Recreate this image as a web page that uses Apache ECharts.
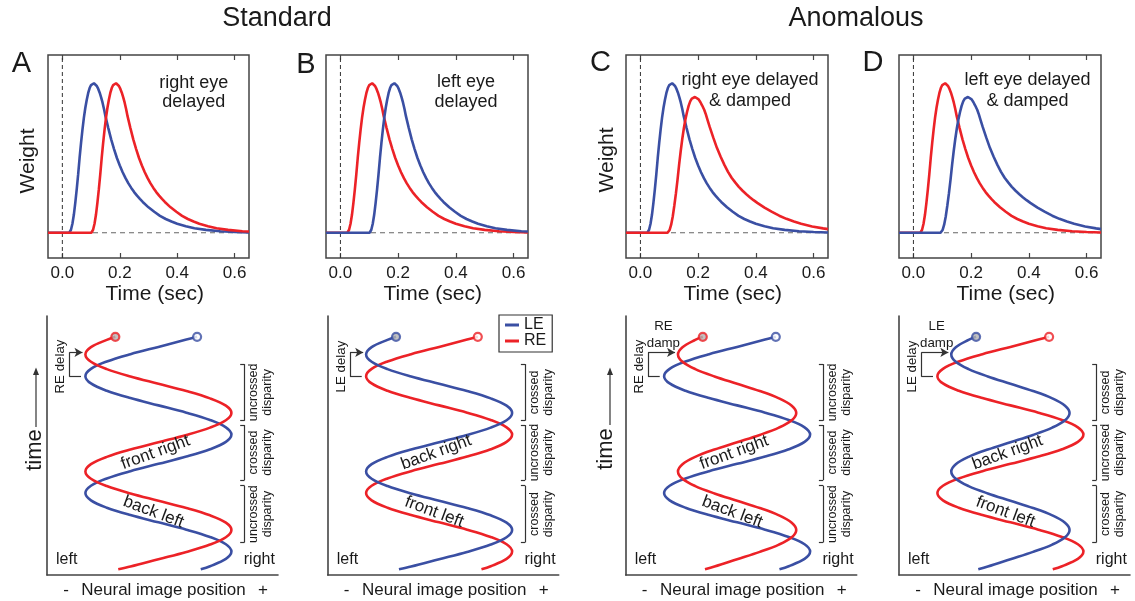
<!DOCTYPE html>
<html><head><meta charset="utf-8">
<script src="https://cdn.jsdelivr.net/npm/echarts@6/dist/echarts.min.js"></script>
<style>html,body{margin:0;padding:0;background:#fff}#c{width:1135px;height:601px}</style>
</head><body><div id="c"></div>
<script>
// ---------------- data ----------------
const timeTicks = [0, 0.2, 0.4, 0.6];
const groupTitles = ['Standard', 'Anomalous'];
const panelLetters = ['A', 'B', 'C', 'D'];
const eyeNames = ['LE', 'RE'];

// temporal weighting functions [time (s), weight]
const fastKernel = [[-0.05,0],[0.024,0],[0.03,0.02],[0.035,0.06],[0.04,0.12],[0.045,0.2],[0.05,0.29],[0.055,0.39],[0.06,0.5],[0.065,0.6],[0.07,0.69],[0.075,0.77],[0.08,0.836],[0.085,0.89],[0.09,0.935],[0.095,0.968],[0.1,0.988],[0.105,0.998],[0.11,1.0],[0.115,0.995],[0.12,0.982],[0.125,0.962],[0.13,0.937],[0.135,0.906],[0.14,0.87],[0.145,0.828],[0.15,0.78],[0.16,0.7],[0.17,0.625],[0.18,0.56],[0.19,0.5],[0.2,0.45],[0.21,0.405],[0.22,0.365],[0.23,0.33],[0.24,0.3],[0.25,0.272],[0.26,0.248],[0.27,0.226],[0.28,0.206],[0.3,0.17],[0.32,0.14],[0.34,0.113],[0.36,0.092],[0.38,0.075],[0.4,0.06],[0.43,0.043],[0.46,0.03],[0.5,0.019],[0.55,0.01],[0.6,0.005],[0.65,0.002]];
const delayedKernel = [[-0.05,0],[0.101,0],[0.107,0.02],[0.112,0.06],[0.117,0.12],[0.122,0.2],[0.127,0.29],[0.132,0.39],[0.137,0.5],[0.142,0.6],[0.147,0.69],[0.152,0.77],[0.157,0.836],[0.162,0.89],[0.167,0.935],[0.172,0.968],[0.177,0.988],[0.182,0.998],[0.187,1.0],[0.192,0.995],[0.197,0.982],[0.202,0.962],[0.207,0.937],[0.212,0.906],[0.217,0.87],[0.222,0.828],[0.227,0.78],[0.237,0.7],[0.247,0.625],[0.257,0.56],[0.267,0.5],[0.277,0.45],[0.287,0.405],[0.297,0.365],[0.307,0.33],[0.317,0.3],[0.327,0.272],[0.337,0.248],[0.347,0.226],[0.357,0.206],[0.377,0.17],[0.397,0.14],[0.417,0.113],[0.437,0.092],[0.457,0.075],[0.477,0.06],[0.507,0.043],[0.537,0.03],[0.577,0.019],[0.627,0.01],[0.65,0.008]];
const dampedKernel = [[-0.05,0],[0.094,0],[0.101,0.018],[0.1065,0.054],[0.112,0.109],[0.1175,0.182],[0.123,0.263],[0.1285,0.354],[0.134,0.454],[0.1395,0.545],[0.145,0.627],[0.1505,0.699],[0.156,0.759],[0.1615,0.808],[0.167,0.849],[0.1725,0.879],[0.178,0.897],[0.1835,0.906],[0.189,0.908],[0.195,0.903],[0.2017,0.892],[0.208,0.873],[0.214,0.851],[0.221,0.823],[0.227,0.79],[0.233,0.752],[0.24,0.708],[0.2525,0.636],[0.265,0.568],[0.278,0.508],[0.291,0.454],[0.303,0.409],[0.316,0.368],[0.329,0.335],[0.341,0.307],[0.354,0.281],[0.367,0.258],[0.379,0.238],[0.392,0.218],[0.405,0.2],[0.43,0.168],[0.456,0.139],[0.481,0.114],[0.506,0.093],[0.532,0.075],[0.557,0.06],[0.595,0.042],[0.633,0.029],[0.65,0.024]];

// neural image trajectories [position, time (cycles)]
const leadPath = [[0.58,0.049],[0.707,0.075],[0.924,0.1375],[1,0.2],[0.924,0.2625],[0.707,0.325],[0.383,0.3875],[0,0.45],[-0.383,0.5125],[-0.707,0.575],[-0.924,0.6375],[-1,0.7],[-0.924,0.7625],[-0.707,0.825],[-0.383,0.8875],[0,0.95],[0.383,1.0125],[0.707,1.075],[0.924,1.1375],[1,1.2],[0.924,1.2625],[0.707,1.325],[0.383,1.3875],[0,1.45],[-0.383,1.5125],[-0.707,1.575],[-0.924,1.6375],[-1,1.7],[-0.924,1.7625],[-0.707,1.825],[-0.383,1.8875],[0,1.95],[0.383,2.0125],[0.53,2.036]];
const delayedPath = [[-0.55,0.049],[-0.383,0.0725],[0,0.135],[0.383,0.1975],[0.707,0.26],[0.924,0.3225],[1,0.385],[0.924,0.4475],[0.707,0.51],[0.383,0.5725],[0,0.635],[-0.383,0.6975],[-0.707,0.76],[-0.924,0.8225],[-1,0.885],[-0.924,0.9475],[-0.707,1.01],[-0.383,1.0725],[0,1.135],[0.383,1.1975],[0.707,1.26],[0.924,1.3225],[1,1.385],[0.924,1.4475],[0.707,1.51],[0.383,1.5725],[0,1.635],[-0.383,1.6975],[-0.707,1.76],[-0.924,1.8225],[-1,1.885],[-0.924,1.9475],[-0.707,2.01],[-0.59,2.036]];
const dampedPath = [[-0.44,0.049],[-0.31,0.0725],[0,0.135],[0.31,0.1975],[0.573,0.26],[0.748,0.3225],[0.81,0.385],[0.748,0.4475],[0.573,0.51],[0.31,0.5725],[0,0.635],[-0.31,0.6975],[-0.573,0.76],[-0.748,0.8225],[-0.81,0.885],[-0.748,0.9475],[-0.573,1.01],[-0.31,1.0725],[0,1.135],[0.31,1.1975],[0.573,1.26],[0.748,1.3225],[0.81,1.385],[0.748,1.4475],[0.573,1.51],[0.31,1.5725],[0,1.635],[-0.31,1.6975],[-0.573,1.76],[-0.748,1.8225],[-0.81,1.885],[-0.748,1.9475],[-0.573,2.01],[-0.47,2.036]];

const notesA = ['right eye', 'delayed'];
const notesB = ['left eye', 'delayed'];
const notesC = ['right eye delayed', '& damped'];
const notesD = ['left eye delayed', '& damped'];
const depthLabelsRE = ['front right', 'back left'];
const depthLabelsLE = ['back right', 'front left'];
const disparityRE = ['uncrossed', 'crossed', 'uncrossed'];
const disparityLE = ['crossed', 'uncrossed', 'crossed'];

// ---------------- layout / style ----------------
const BLUE = '#3a4fa3', RED = '#ec2227', FILL = '#b3b3b3', INK = '#1a1a1a';
const FONT = '"Liberation Sans", Arial, Helvetica, sans-serif';
const topBox = [{l:48,w:201},{l:326,w:202},{l:626,w:202},{l:899,w:202}];
const TOP_Y = 55, TOP_H = 203, T_MIN = -0.05, T_MAX = 0.65, W_MIN = -0.169, W_MAX = 1.189;
const botLeft = [47, 327.7, 625.7, 899];
const BOT_Y = 316, BOT_W = 231, BOT_H = 259, P_MIN = -1.526, P_MAX = 1.638, C_MAX = 2.214;

const panels = [
  {le: fastKernel, re: delayedKernel, lePath: leadPath, rePath: delayedPath, delayed: 'RE', note: notesA, noteX: 145.7, noteY: [83.5, 102.5], depth: depthLabelsRE, disp: disparityRE, delayText: 'RE delay', damp: null, letterY: 64},
  {le: delayedKernel, re: fastKernel, lePath: delayedPath, rePath: leadPath, delayed: 'LE', note: notesB, noteX: 140, noteY: [82.5, 102.5], depth: depthLabelsLE, disp: disparityLE, delayText: 'LE delay', damp: null, letterY: 65},
  {le: fastKernel, re: dampedKernel, lePath: leadPath, rePath: dampedPath, delayed: 'RE', note: notesC, noteX: 124, noteY: [80, 101], depth: depthLabelsRE, disp: disparityRE, delayText: 'RE delay', damp: 'RE', letterY: 63},
  {le: dampedKernel, re: fastKernel, lePath: dampedPath, rePath: leadPath, delayed: 'LE', note: notesD, noteX: 128.5, noteY: [80, 101], depth: depthLabelsLE, disp: disparityLE, delayText: 'LE delay', damp: 'LE', letterY: 63}
];
const letterX = [21.5, 306, 600.5, 873];

const chart = echarts.init(document.getElementById('c'));
const option = {
  animation: false,
  textStyle: {fontFamily: FONT},
  legend: {
    data: eyeNames, orient: 'vertical', left: 499, top: 315,
    padding: [2, 6, 3, 6], itemGap: 0, itemWidth: 14, itemHeight: 3, icon: 'rect',
    borderColor: '#333', borderWidth: 1.2, selectedMode: false,
    textStyle: {fontSize: 16, color: INK, fontFamily: FONT, lineHeight: 16}
  },
  grid: [], xAxis: [], yAxis: [], series: []
};
const noAxis = {axisLine: {show: false, onZero: false}, axisTick: {show: false}, axisLabel: {show: false}, splitLine: {show: false}};
const colorOf = e => e === 'LE' ? BLUE : RED;

for (let i = 0; i < 4; i++) {
  option.grid.push({left: topBox[i].l, top: TOP_Y, width: topBox[i].w, height: TOP_H, show: true,
    borderColor: '#444', borderWidth: 1.5, containLabel: false, outerBoundsMode: 'none'});
}
for (let i = 0; i < 4; i++) {
  option.grid.push({left: botLeft[i], top: BOT_Y, width: BOT_W, height: BOT_H, show: false, containLabel: false, outerBoundsMode: 'none'});
}
// x axes 0-3: top panels (bottom edge, labelled)
for (let i = 0; i < 4; i++) {
  option.xAxis.push({gridIndex: i, type: 'value', min: T_MIN, max: T_MAX, position: 'bottom',
    axisLine: {show: false, onZero: false},
    axisTick: {show: true, inside: true, length: 5, customValues: timeTicks, lineStyle: {color: '#444', width: 1.2}},
    axisLabel: {customValues: timeTicks, formatter: v => v.toFixed(1), fontSize: 17, color: INK, margin: 7, fontFamily: FONT},
    splitLine: {show: false}});
}
// x axes 4-7: bottom panels
for (let i = 0; i < 4; i++) {
  option.xAxis.push(Object.assign({gridIndex: 4 + i, type: 'value', min: P_MIN, max: P_MAX}, noAxis,
    {axisLine: {show: true, onZero: false, lineStyle: {color: '#444', width: 1.6}}}));
}
// x axes 8-11: top edge ticks of top panels
for (let i = 0; i < 4; i++) {
  option.xAxis.push({gridIndex: i, type: 'value', min: T_MIN, max: T_MAX, position: 'top',
    axisLine: {show: false, onZero: false},
    axisTick: {show: true, inside: true, length: 5, customValues: timeTicks, lineStyle: {color: '#444', width: 1.2}},
    axisLabel: {show: false}, splitLine: {show: false}});
}
for (let i = 0; i < 4; i++) {
  option.yAxis.push(Object.assign({gridIndex: i, type: 'value', min: W_MIN, max: W_MAX}, noAxis));
}
for (let i = 0; i < 4; i++) {
  option.yAxis.push(Object.assign({gridIndex: 4 + i, type: 'value', min: 0, max: C_MAX}, noAxis,
    {axisLine: {show: true, onZero: false, lineStyle: {color: '#444', width: 1.6}}}));
}

panels.forEach((p, i) => {
  // reference dashed lines
  option.series.push({type: 'line', name: 'zero', xAxisIndex: i, yAxisIndex: i, data: [[0, W_MIN], [0, W_MAX]],
    symbol: 'none', silent: true, lineStyle: {color: '#333', width: 1, type: [4, 3]}, z: 1});
  option.series.push({type: 'line', name: 'base', xAxisIndex: i, yAxisIndex: i, data: [[T_MIN, 0], [T_MAX, 0]],
    symbol: 'none', silent: true, lineStyle: {color: '#666', width: 1.2, type: [5, 4]}, z: 1});
  const order = p.delayed === 'RE' ? ['LE', 'RE'] : ['RE', 'LE'];
  order.forEach(e => {
    option.series.push({type: 'line', name: e, xAxisIndex: i, yAxisIndex: i, data: e === 'LE' ? p.le : p.re,
      symbol: 'none', silent: true, lineStyle: {color: colorOf(e), width: 2.6}, itemStyle: {color: colorOf(e)}, z: 3});
  });

  // bottom panel
  const gi = 4 + i;
  const dampX = p.damp ? -0.85 : -1.04;
  const seg = (a, b, arrow) => [{coord: a, symbol: 'none'}, {coord: b, symbol: arrow ? 'arrow' : 'none', symbolSize: arrow ? [7, 8] : 0}];
  const mk = [
    seg([-1.22, 1.903], [-1.22, 1.695]),
    seg([-1.22, 1.903], [dampX, 1.903], true),
    seg([-1.22, 1.695], [-1.06, 1.695])
  ];
  [[1.319, 1.803], [0.812, 1.282], [0.279, 0.763]].forEach(([a, b]) => {
    mk.push(seg([1.12, b], [1.18, b]), seg([1.18, b], [1.18, a]), seg([1.18, a], [1.12, a]));
  });
  order.forEach((e, k) => {
    const path = e === 'LE' ? p.lePath : p.rePath;
    const s = {type: 'line', name: e, xAxisIndex: gi, yAxisIndex: gi, data: path, smooth: 0.35,
      symbol: 'none', silent: true, lineStyle: {color: colorOf(e), width: 2.6}, itemStyle: {color: colorOf(e)}, z: 3};
    if (k === 0) {
      s.markLine = {silent: true, symbol: ['none', 'none'], label: {show: false}, animation: false,
        lineStyle: {color: '#333', width: 1.2, type: 'solid'}, emphasis: {disabled: true}, data: mk};
    }
    option.series.push(s);
  });
  order.forEach(e => {
    const path = e === 'LE' ? p.lePath : p.rePath;
    option.series.push({type: 'scatter', name: e + ' start', xAxisIndex: gi, yAxisIndex: gi,
      data: [path[path.length - 1]], symbol: 'circle', symbolSize: 8, silent: true, z: 5,
      itemStyle: {color: e === p.delayed ? FILL : '#fff', borderColor: colorOf(e), borderWidth: 2.2}});
  });
});

chart.setOption(option);

// ---------------- annotations ----------------
const P = (gi, x, y) => chart.convertToPixel({xAxisIndex: gi, yAxisIndex: gi}, [x, y]);
const g = [];
function txt(x, y, text, size, rot, lh) {
  g.push({type: 'text', x: x, y: y, rotation: rot || 0, silent: true, z: 10,
    style: {text: text, fill: INK, font: size + 'px ' + FONT, textAlign: 'center', textVerticalAlign: 'middle',
      align: 'center', verticalAlign: 'middle', lineHeight: lh || size}});
}
txt(277, 18.5, groupTitles[0], 27);
txt(856, 18.5, groupTitles[1], 27);
const R = Math.PI / 180;
panels.forEach((p, i) => {
  const L = topBox[i].l;
  txt(letterX[i], p.letterY, panelLetters[i], 29);
  txt(L + p.noteX, p.noteY[0], p.note[0], 18);
  txt(L + p.noteX, p.noteY[1], p.note[1], 18);
  txt(L + 106.7, 294.5, 'Time (sec)', 21);
  const gi = 4 + i, bl = botLeft[i];
  let q = P(gi, -0.04, 1.047); txt(q[0], q[1], p.depth[0], 17, 20 * R);
  q = P(gi, -0.067, 0.538); txt(q[0], q[1], p.depth[1], 17, -20.5 * R);
  [1.561, 1.047, 0.521].forEach((t, k) => {
    q = P(gi, 1.40, t); txt(q[0], q[1], p.disp[k] + '\ndisparity', 12.5, 90 * R, 13.7);
  });
  q = P(gi, -1.256, 0.134); txt(q[0], q[1], 'left', 16);
  q = P(gi, 1.382, 0.134); txt(q[0], q[1], 'right', 16);
  q = P(gi, -1.34, 1.782); txt(q[0], q[1], p.delayText, 13.3, 90 * R);
  if (p.damp) {
    q = P(gi, -1.01, 2.122); txt(q[0], q[1], p.damp, 13.3);
    q = P(gi, -1.01, 1.983); txt(q[0], q[1], 'damp', 13.3);
  }
  txt(bl + 19, 590, '-', 17);
  txt(bl + 116.5, 590, 'Neural image position', 17);
  txt(bl + 216, 590, '+', 17);
});
// y-axis titles (A and C)
txt(28, 161, 'Weight', 21, 90 * R);
txt(607, 160, 'Weight', 21, 90 * R);
txt(35, 450, 'time', 22, 90 * R);
txt(606, 449, 'time', 22, 90 * R);
[[36, 427], [610, 425]].forEach(([x, y0]) => {
  g.push({type: 'line', silent: true, shape: {x1: x, y1: y0, x2: x, y2: 373}, style: {stroke: '#333', lineWidth: 1.2}});
  g.push({type: 'polygon', silent: true, shape: {points: [[x, 367.5], [x - 3, 375], [x + 3, 375]]}, style: {fill: '#333'}});
});
chart.setOption({graphic: {elements: g}});
</script>
</body></html>
